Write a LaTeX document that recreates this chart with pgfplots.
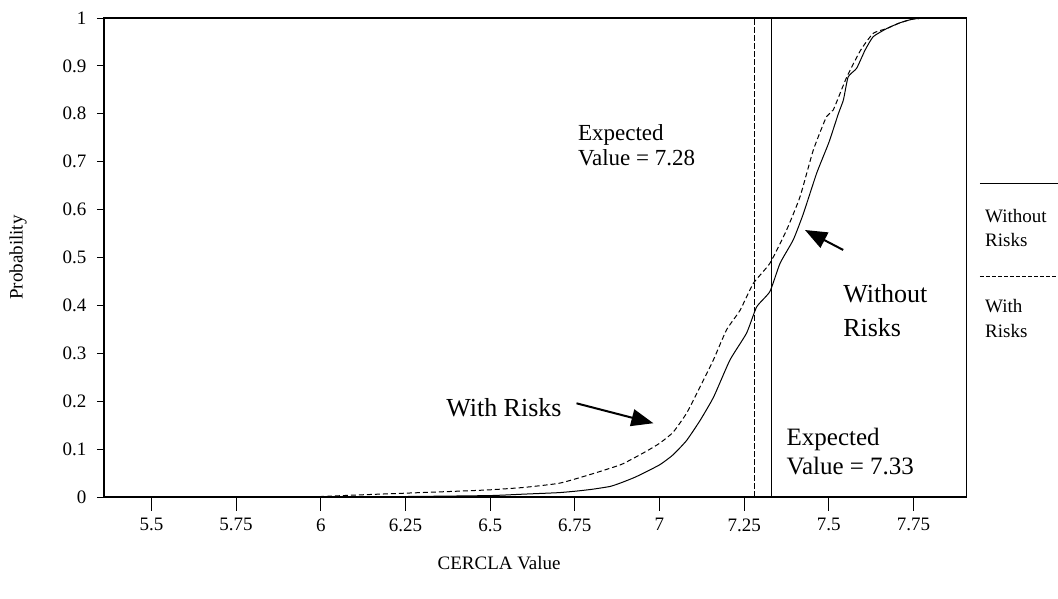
\documentclass[border=0pt]{standalone}
\usepackage{pgfplots}
\pgfplotsset{compat=1.18}
\usepackage{fontspec}
\setmainfont{Liberation Serif}
\usetikzlibrary{arrows.meta}

% cumulative probability
\pgfplotstableread{
x      p
5.90   0.000
6.00   0.0005
6.25   0.001
6.50   0.003
6.60   0.006
6.70   0.009
6.75   0.012
6.80   0.016
6.854  0.022
6.884  0.029
6.93   0.042
7.00   0.067
7.04   0.088
7.08   0.118
7.12   0.160
7.16   0.209
7.208  0.286
7.257  0.342
7.287  0.397
7.326  0.429
7.356  0.488
7.395  0.537
7.425  0.592
7.464  0.676
7.50   0.740
7.528  0.800
7.543  0.829
7.557  0.877
7.582  0.895
7.607  0.933
7.631  0.961
7.671  0.978
7.71   0.990
7.75   0.998
7.80   1.000
7.85   1.000
}\withoutrisks

\pgfplotstableread{
x      p
5.90   0.000
6.00   0.001
6.10   0.004
6.25   0.008
6.40   0.012
6.50   0.015
6.60   0.020
6.706  0.029
6.805  0.049
6.884  0.067
6.913  0.077
6.96   0.095
7.00   0.112
7.04   0.135
7.08   0.175
7.12   0.230
7.159  0.286
7.198  0.349
7.238  0.390
7.277  0.446
7.326  0.488
7.375  0.557
7.415  0.627
7.454  0.724
7.493  0.794
7.513  0.808
7.553  0.877
7.594  0.933
7.631  0.968
7.671  0.978
7.71   0.990
7.75   0.998
7.80   1.000
7.85   1.000
}\withrisks

\begin{document}
\begin{tikzpicture}
\path[use as bounding box] (-104bp,-102bp) rectangle (954bp,497bp);
\begin{axis}[
    scale only axis,
    width=862.7bp, height=479bp,
    xmin=5.36, xmax=7.907,
    ymin=0, ymax=1,
    xtick={5.5,5.75,6,6.25,6.5,6.75,7,7.25,7.5,7.75},
    ytick={0,0.1,0.2,0.3,0.4,0.5,0.6,0.7,0.8,0.9,1},
    /pgf/number format/assume math mode=true,
    tick pos=left,
    tick align=outside,
    major tick length=7bp,
    xtick style={draw=none},
    tick style={black, line width=0.8bp},
    axis line style={line width=1.1bp},
    ticklabel style={font=\fontsize{19bp}{22bp}\selectfont},
    xticklabel style={yshift=-11bp},
    yticklabel style={xshift=-7bp},
    label style={font=\fontsize{19bp}{22bp}\selectfont},
    xlabel={CERCLA Value},
    ylabel={Probability},
    xlabel style={at={(axis description cs:0.458,-0.1378)}, anchor=center},
    ylabel style={at={(axis description cs:-0.0997,0.5)}, anchor=center},
    clip=false,
]

\addplot[black, line width=1bp, smooth, tension=0.3] table[x=x, y=p] {\withoutrisks};
\addplot[black, line width=1bp, smooth, tension=0.3, dash pattern=on 5bp off 3bp] table[x=x, y=p] {\withrisks};

% expected values
\addplot[black, line width=1bp, dash pattern=on 6bp off 2bp] coordinates {(7.28,0) (7.28,1)};
\addplot[black, line width=1bp] coordinates {(7.33,0) (7.33,1)};

% longer x ticks
\pgfplotsinvokeforeach{5.5,5.75,6,6.25,6.5,6.75,7,7.25,7.5,7.75}{
    \draw[line width=0.8bp] (axis cs:#1,0) -- ++(0pt,-14bp);
}

% annotations
\node[anchor=west, align=left, inner sep=0pt, font=\fontsize{23bp}{25bp}\selectfont]
    at (axis cs:6.759,0.734) {Expected\\Value = 7.28};
\node[anchor=west, inner sep=0pt, font=\fontsize{26bp}{28bp}\selectfont]
    at (axis cs:6.370,0.186) {With Risks};
\node[anchor=west, align=left, inner sep=0pt, font=\fontsize{26bp}{34bp}\selectfont]
    at (axis cs:7.542,0.390) {Without\\Risks};
\node[anchor=west, align=left, inner sep=0pt, font=\fontsize{25bp}{29bp}\selectfont]
    at (axis cs:7.375,0.0946) {Expected\\Value = 7.33};

\draw[line width=2bp, -{Triangle[length=22bp, width=17bp]}]
    (axis cs:6.755,0.1956) -- (axis cs:6.982,0.154);
\draw[line width=2bp, -{Triangle[length=22bp, width=17bp]}]
    (axis cs:7.5425,0.5157) -- (axis cs:7.4295,0.5574);

% legend outside the box
\draw[black, line width=0.9bp] (rel axis cs:1.0154,0.6555) -- (rel axis cs:1.1058,0.6555);
\node[anchor=west, align=left, inner sep=0pt, font=\fontsize{19bp}{24bp}\selectfont]
    at (rel axis cs:1.0212,0.5616) {Without\\Risks};
\draw[black, line width=0.9bp, dash pattern=on 4bp off 2bp] (rel axis cs:1.0154,0.4614) -- (rel axis cs:1.1058,0.4614);
\node[anchor=west, align=left, inner sep=0pt, font=\fontsize{19bp}{25bp}\selectfont]
    at (rel axis cs:1.0212,0.3727) {With\\Risks};
\end{axis}
\end{tikzpicture}
\end{document}
